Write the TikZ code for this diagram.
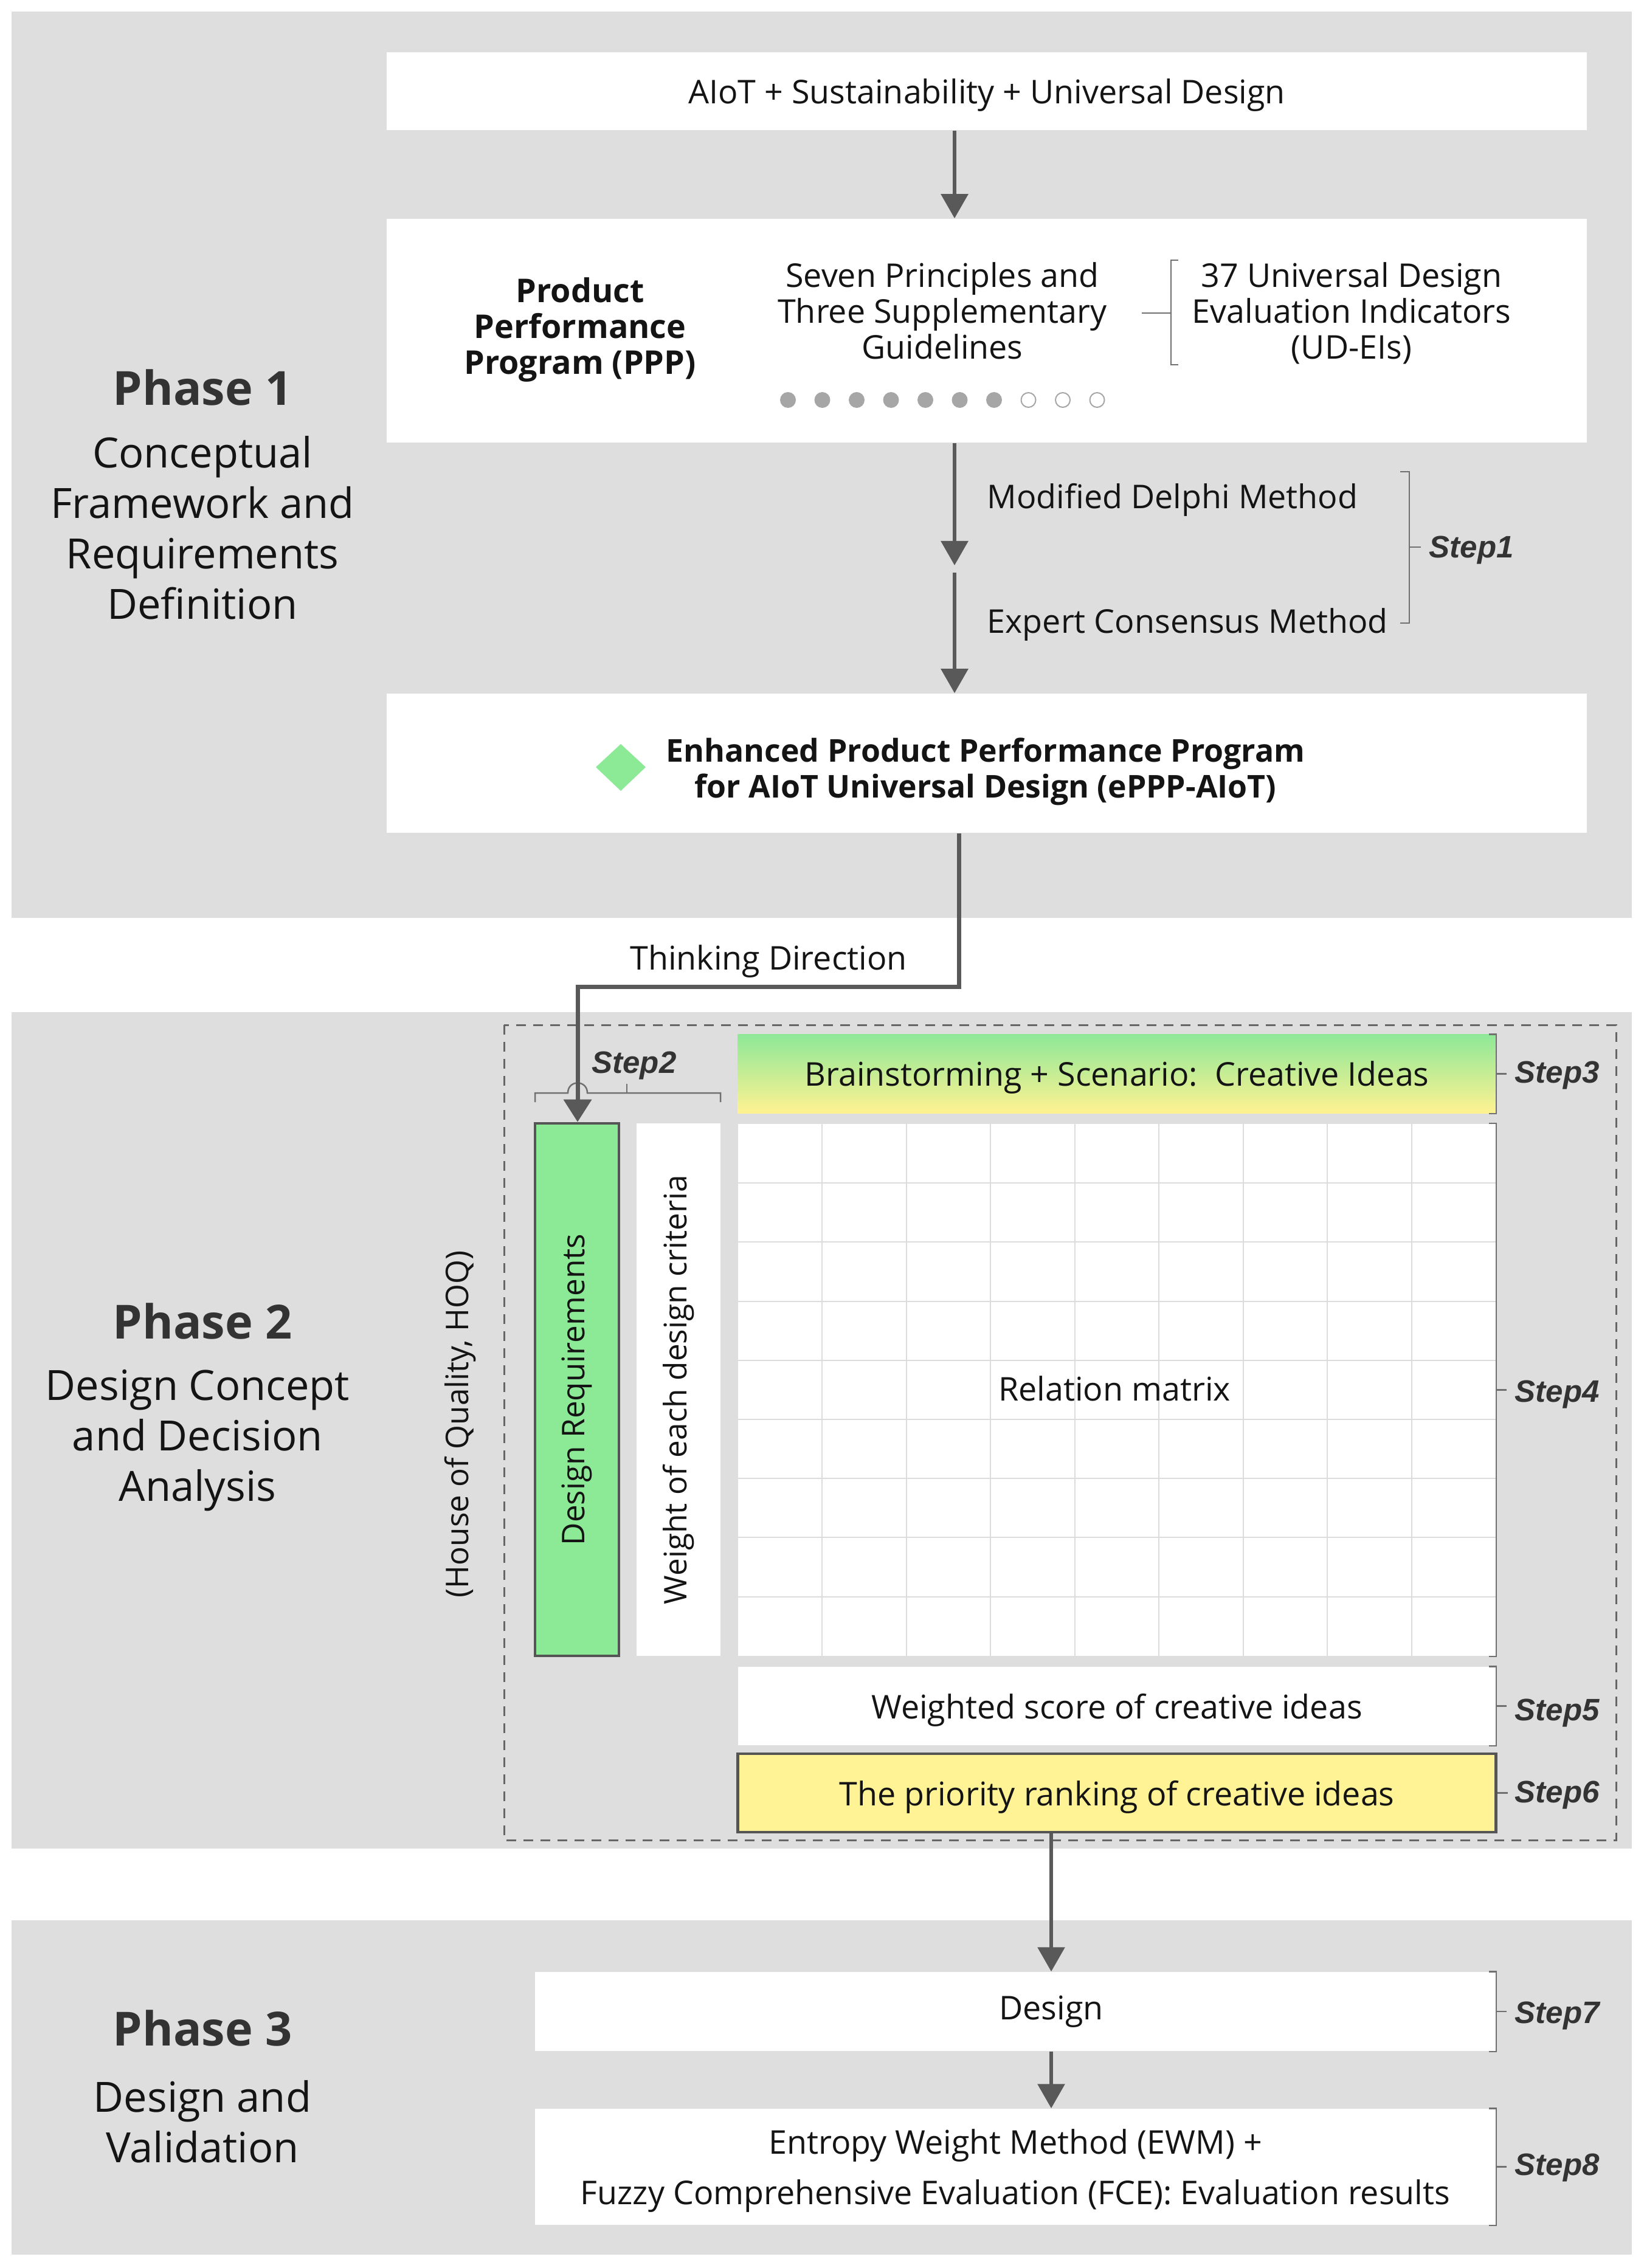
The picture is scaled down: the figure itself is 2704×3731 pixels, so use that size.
\documentclass[tikz,border=0pt]{standalone}
\usepackage{fontspec}
\setmainfont{Open Sans}
\newfontfamily\stepfam{Liberation Sans}
\usetikzlibrary{arrows.meta}
\definecolor{bggray}{HTML}{DEDEDE}
\definecolor{arrgray}{HTML}{595959}
\definecolor{brkgray}{HTML}{707070}
\definecolor{drgreen}{HTML}{8CE995}
\definecolor{prioyellow}{HTML}{FFF395}
\definecolor{gridgray}{HTML}{DCDCDC}
\definecolor{dotgray}{HTML}{A6A6A6}
\definecolor{txt}{HTML}{141414}
\definecolor{steptxt}{HTML}{333333}
\definecolor{gradtop}{HTML}{8EE898}
\definecolor{gradbot}{HTML}{FFF291}
\definecolor{borderdark}{HTML}{555555}
\definecolor{dashgray}{HTML}{666666}
\newcommand{\bxfont}{\fontsize{15.3}{16.9}\selectfont}
\newcommand{\bxfontwide}{\fontsize{15.3}{23.6}\selectfont}
\newcommand{\rotfont}{\fontsize{14.6}{16}\selectfont}
\newcommand{\phtitlefont}{\fontsize{22}{26}\selectfont\bfseries}
\newcommand{\phsubfont}{\fontsize{19.5}{23.6}\selectfont}
\newcommand{\stpfont}{\stepfam\fontsize{14.5}{16}\selectfont\bfseries\itshape}
\tikzset{
  wbox/.style={fill=white, draw=none, inner sep=0pt, text=txt, font=\bxfont, align=center, text depth=0pt},
  btxt/.style={inner sep=0pt, text=txt, font=\bxfont, align=center, text depth=0pt},
  rottxt/.style={inner sep=0pt, text=txt, font=\rotfont, rotate=90},
  arr/.style={draw=arrgray, line width=0.6mm, -{Triangle[length=4mm,width=4.4mm]}},
  arrtd/.style={draw=arrgray, line width=0.7mm, -{Triangle[length=3.7mm,width=4.5mm]}},
  brk/.style={draw=brkgray, line width=0.25mm},
  stepl/.style={inner sep=0pt, text=steptxt, font=\stpfont, anchor=base west},
  phtitle/.style={inner sep=0pt, text=steptxt, font=\phtitlefont, align=center},
  phsub/.style={inner sep=0pt, text=txt, font=\phsubfont, align=center},
  gridline/.style={draw=gridgray, line width=0.2mm},
  dashbox/.style={draw=dashgray, line width=0.3mm, dash pattern=on 1.6mm off 1.2mm}
}
\begin{document}
\begin{tikzpicture}[x=0.01cm, y=-0.01cm]
\useasboundingbox (0,0) rectangle (2704,3731);
\fill[white] (0,0) rectangle (2704,3731);
% phase backgrounds
\fill[bggray] (19,19) rectangle (2684,1510);
\fill[bggray] (19,1665) rectangle (2684,3041);
\fill[bggray] (19,3159) rectangle (2684,3709);

% ---------------- Phase 1 ----------------
\node[phtitle] (p1t) at (333,637) {Phase 1};
\node[phsub] (p1s) at (333,868) {Conceptual\\Framework and\\Requirements\\Definition};

\node[wbox, minimum width=19.72cm, minimum height=1.28cm] (top) at (1623,150) {AIoT + Sustainability + Universal Design};
\node[wbox, minimum width=19.72cm, minimum height=3.68cm] (ppp) at (1623,544) {};
\node[btxt, font=\bxfont\bfseries] (ppptxt) at (954,536) {Product\\Performance\\Program (PPP)};
\node[btxt] (seven) at (1550,511) {Seven Principles and\\Three Supplementary\\Guidelines};
\node[btxt] (udei) at (2223,511) {37 Universal Design\\Evaluation Indicators\\(UD-EIs)};
\draw[brk] (1938,428) -- (1926,428) -- (1926,600) -- (1938,600);
\draw[brk] (1878,515) -- (1926,515);
\foreach \i in {0,...,6} \fill[dotgray] (1296+\i*56.5,658) circle[radius=0.13cm];
\foreach \i in {7,8,9} \draw[dotgray, line width=0.2mm, fill=white] (1296+\i*56.5,658) circle[radius=0.12cm];

\node[wbox, minimum width=19.72cm, minimum height=2.29cm] (eppp) at (1623,1255.5) {};
\fill[drgreen] (1021,1224) -- (1062,1262) -- (1021,1301) -- (980,1262) -- cycle;
\node[btxt, font={\fontsize{14.7}{16.9}\selectfont\bfseries}] (eppptxt) at (1621,1263) {Enhanced Product Performance Program\\for AIoT Universal Design (ePPP-AIoT)};

\coordinate (ax) at (1570,0);
\coordinate (mid1) at (1570,930);
\coordinate (mid2) at (1570,942);
\draw[arr] (top.south -| ax) -- (ppp.north -| ax);
\draw[arr] (ppp.south -| ax) -- (mid1);
\draw[arr] (mid2) -- (eppp.north -| ax);
\node[btxt, anchor=west] (delphi) at (1623,816) {Modified Delphi Method};
\node[btxt, anchor=west] (expert) at (1623,1021) {Expert Consensus Method};
\draw[brk] (2303,776) -- (2318,776) -- (2318,1025) -- (2303,1025);
\draw[brk] (2318,900) -- (2337,900);
\node[stepl] (s1) at (2350,917) {Step1};

% ---------------- Phase 2 ----------------
\node[phtitle] (p2t) at (333,2173) {Phase 2};
\node[phsub] (p2s) at (325,2370) {Design Concept\\and Decision\\Analysis};
\node[rottxt] (hoq) at (757,2343) {(House of Quality, HOQ)};

\draw[dashbox] (829,1686) rectangle (2658,3027);

\node[draw=borderdark, line width=0.4mm, fill=drgreen, inner sep=0pt, minimum width=1.38cm, minimum height=8.76cm] (dr) at (949,2286) {};
\node[rottxt] (drtxt) at (dr.center) {Design Requirements};
\node[wbox, minimum width=1.38cm, minimum height=8.76cm] (wt) at (1116,2286) {};
\node[rottxt] (wttxt) at (wt.center) {Weight of each design criteria};

\node[wbox, top color=gradtop, bottom color=gradbot, minimum width=12.46cm, minimum height=1.29cm] (bs) at (1837,1766.5) {Brainstorming + Scenario:\ \ Creative Ideas};
\node[wbox, minimum width=12.46cm, minimum height=8.75cm] (mat) at (1837,2286.5) {};
\foreach \i in {1,...,8} \draw[gridline] (1214+\i*138.44,1849) -- (1214+\i*138.44,2724);
\foreach \j in {1,...,8} \draw[gridline] (1214,1849+\j*97.2) -- (2460,1849+\j*97.2);
\node[btxt] (rel) at (1833,2284) {Relation matrix};
\node[wbox, minimum width=12.46cm, minimum height=1.29cm] (ws) at (1837,2806.5) {Weighted score of creative ideas};
\node[wbox, draw=borderdark, line width=0.45mm, fill=prioyellow, minimum width=12.46cm, minimum height=1.29cm] (pr) at (1837,2949.5) {The priority ranking of creative ideas};

% thinking direction connector
\coordinate (tx) at (1577,0);
\coordinate (tdcorner) at (950,1623);
\draw[brk] (880,1813) -- (880,1798) -- (934,1798) .. controls (934,1776) and (966,1776) .. (966,1798) -- (1185,1798) -- (1185,1813);
\draw[brk] (1031,1798) -- (1031,1783);
\draw[arrtd] (eppp.south -| tx) |- (tdcorner) -- (dr.north -| tdcorner);
\node[btxt] (td) at (1264,1575) {Thinking Direction};
\node[stepl, anchor=base] (s2) at (1043,1765) {Step2};

% ---------------- Phase 3 ----------------
\node[phtitle] (p3t) at (333,3336) {Phase 3};
\node[phsub] (p3s) at (333,3490) {Design and\\Validation};

\node[wbox, minimum width=15.8cm, minimum height=1.30cm] (des) at (1670,3309) {};
\node[btxt] (destxt) at (1729,3303) {Design};
\node[wbox, font=\bxfontwide, minimum width=15.8cm, minimum height=1.91cm] (ewm) at (1670,3564.5) {Entropy Weight Method (EWM) +\\Fuzzy Comprehensive Evaluation (FCE): Evaluation results};

\coordinate (bx) at (1729,0);
\draw[arr] (pr.south -| bx) -- (des.north -| bx);
\draw[arr] (des.south -| bx) -- (ewm.north -| bx);

% right-side step brackets
\foreach \n/\s/\b in {bs/Step3/1781, mat/Step4/2306, ws/Step5/2830, des/Step7/3328, ewm/Step8/3578}{
  \draw[brk] ([xshift=-0.12cm]\n.north east) -- (\n.north east) -- (\n.south east) -- ([xshift=-0.12cm]\n.south east);
  \draw[brk] (\n.east) -- ++(17,0);
  \node[stepl] at (2491,\b) {\s};
}
\draw[brk] (pr.east) -- ++(17,0);
\node[stepl] (s6) at (2491,2965) {Step6};
\end{tikzpicture}
\end{document}
